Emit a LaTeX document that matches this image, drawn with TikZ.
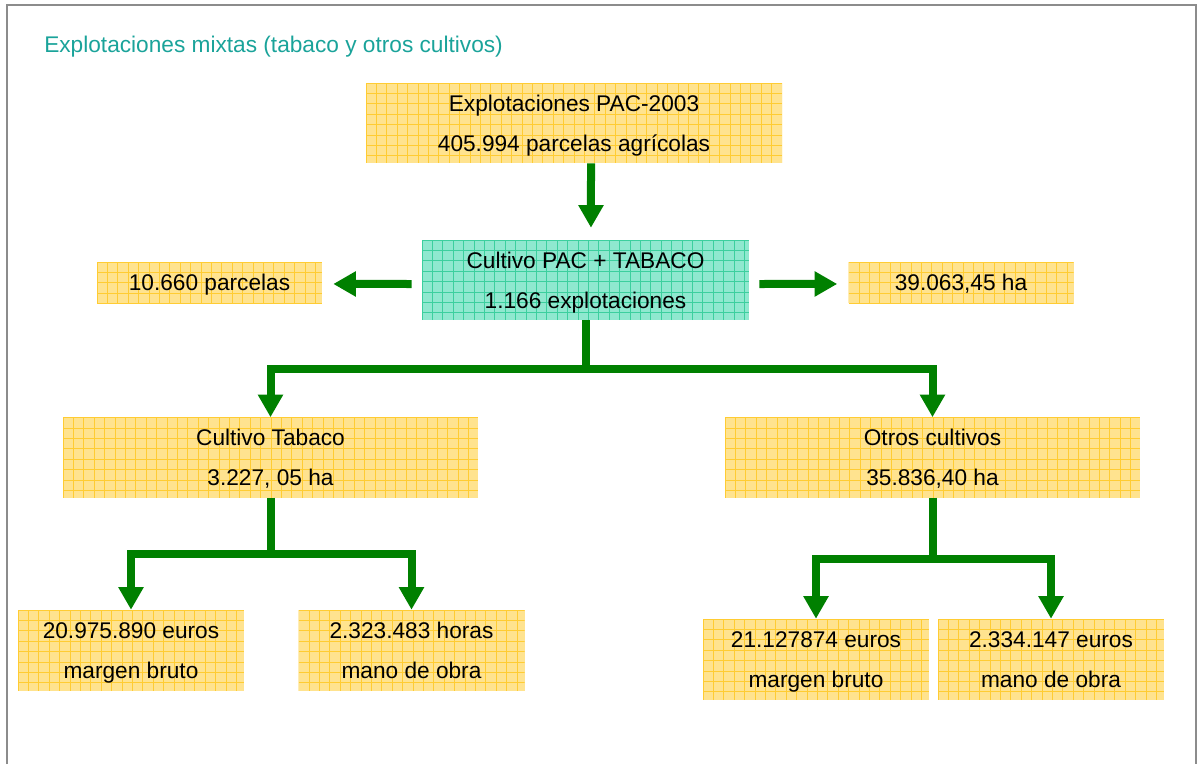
\documentclass[tikz,border=0pt]{standalone}
\usepackage{fontspec}
\setmainfont{Liberation Sans}
\usetikzlibrary{arrows.meta}
\definecolor{boxy}{HTML}{FFE38F}
\definecolor{gridy}{HTML}{FFCC33}
\definecolor{boxt}{HTML}{8FE8CF}
\definecolor{gridt}{HTML}{3CCF9E}
\definecolor{arrg}{HTML}{008000}
\definecolor{titc}{HTML}{1AA39A}
\definecolor{framec}{HTML}{8C8C8C}
\newcommand{\twol}[2]{\strut #1\\\strut #2}
\tikzset{
  gridbox/.style 2 args={fill=#1, inner sep=0pt, align=center,
    font=\fontsize{17}{30}\selectfont,
    path picture={
      \foreach \i in {0,...,45}{
        \draw[#2,line width=0.6pt] ([xshift=\i*7.8pt]path picture bounding box.north west) -- ([xshift=\i*7.8pt]path picture bounding box.south west);
        \draw[#2,line width=0.6pt] ([yshift=-\i*7.8pt]path picture bounding box.north west) -- ([yshift=-\i*7.8pt]path picture bounding box.north east);
      }}},
  ybox/.style={gridbox={boxy}{gridy}},
  tbox/.style={gridbox={boxt}{gridt}},
  big/.style={minimum width=415*0.75pt, minimum height=80*0.75pt},
  small/.style={minimum width=226*0.75pt, minimum height=81*0.75pt},
  single/.style={minimum width=225*0.75pt, minimum height=41*0.75pt},
  arr/.style={draw=arrg, line width=6pt, line join=miter, -{Triangle[width=18pt,length=17pt]}}
}
\begin{document}
\begin{tikzpicture}[x=0.75pt,y=-0.75pt]
\useasboundingbox (0,0) rectangle (1199,764);
\draw[framec, line width=1.8pt] (7,764) -- (7,5) -- (1196,5) -- (1196,764);
\node[anchor=base west, text=titc, font=\fontsize{17}{20}\selectfont, inner sep=0pt] (title) at (44,52) {Explotaciones mixtas (tabaco y otros cultivos)};

\node[ybox, minimum width=416*0.75pt, minimum height=80*0.75pt] (b1) at (574,123) {\twol{Explotaciones PAC-2003}{405.994 parcelas agrícolas}};
\node[tbox, minimum width=327*0.75pt, minimum height=80*0.75pt] (b2) at (585.5,280) {\twol{Cultivo PAC + TABACO}{1.166 explotaciones}};
\node[ybox, single] (l1) at (209.5,282.5) {\strut 10.660 parcelas};
\node[ybox, single] (r1) at (961,282.5) {\strut 39.063,45 ha};
\node[ybox, big] (tab) at (270.5,457.5) {\twol{Cultivo Tabaco}{3.227, 05 ha}};
\node[ybox, big] (otr) at (932.5,457.5) {\twol{Otros cultivos}{35.836,40 ha}};
\node[ybox, small] (c1) at (131,650.5) {\twol{20.975.890 euros}{margen bruto}};
\node[ybox, small] (c2) at (411.5,650.5) {\twol{2.323.483 horas}{mano de obra}};
\node[ybox, small] (d1) at (816,659.5) {\twol{21.127874 euros}{margen bruto}};
\node[ybox, small] (d2) at (1051,659.5) {\twol{2.334.147 euros}{mano de obra}};

\draw[arr, shorten >=9pt] ([xshift=12.75pt]b1.south) -- ([xshift=4.1pt]b2.north);
\draw[arr, shorten <=7.5pt, shorten >=8.25pt] ([yshift=-3pt]b2.west) -- ([yshift=-1.1pt]l1.east);
\draw[arr, shorten <=7.5pt, shorten >=8.25pt] ([yshift=-3pt]b2.east) -- ([yshift=-1.1pt]r1.west);
\draw[arr] (b2.south) -- ++(0,49) -| (tab.north);
\draw[arr] (b2.south) -- ++(0,49) -| (otr.north);
\draw[arr] (tab.south) -- ++(0,56) -| (c1.north);
\draw[arr] (tab.south) -- ++(0,56) -| (c2.north);
\draw[arr] (otr.south) -- ++(0,61) -| (d1.north);
\draw[arr] (otr.south) -- ++(0,61) -| (d2.north);
\end{tikzpicture}
\end{document}
